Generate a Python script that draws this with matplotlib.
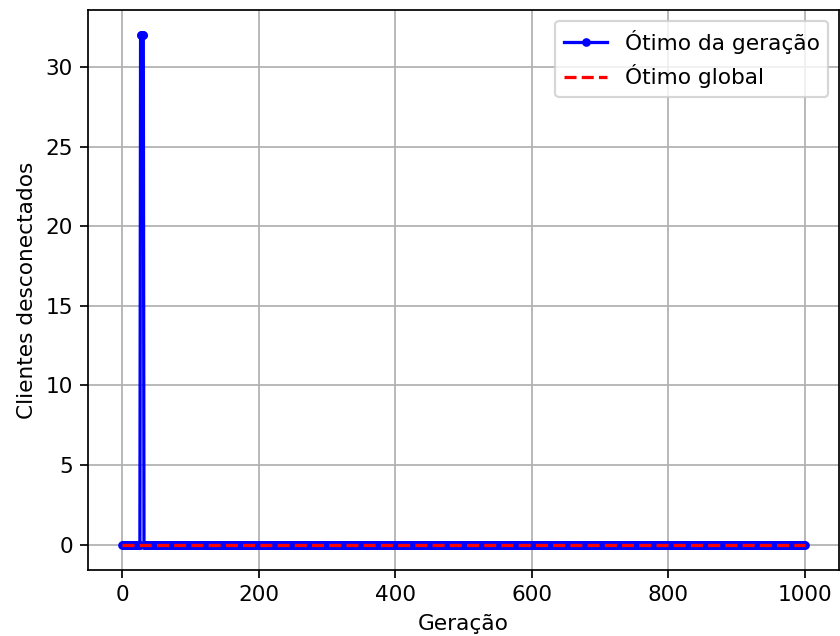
import matplotlib
matplotlib.use('Agg')
import matplotlib.pyplot as plt

# Best individual per generation (disconnected clients)
geracoes = list(range(0, 1001))
otimo_geracao = [0] * 27 + [32] * 5 + [0] * 969
otimo_global = [0] * len(geracoes)

DPI = 156
fig, ax = plt.subplots(figsize=(840 / DPI, 636 / DPI), dpi=DPI)
fig.subplots_adjust(left=88 / 840, right=839 / 840, top=1 - 10 / 636, bottom=1 - 570 / 636)

ax.plot(geracoes, otimo_geracao, color='blue', marker='.', label='Ótimo da geração')
ax.plot(geracoes, otimo_global, color='red', linestyle='--', label='Ótimo global')

ax.set_xlabel('Geração')
ax.set_ylabel('Clientes desconectados')
ax.grid(True)
ax.legend(loc='upper right')

fig.savefig('out.png', dpi=DPI)
